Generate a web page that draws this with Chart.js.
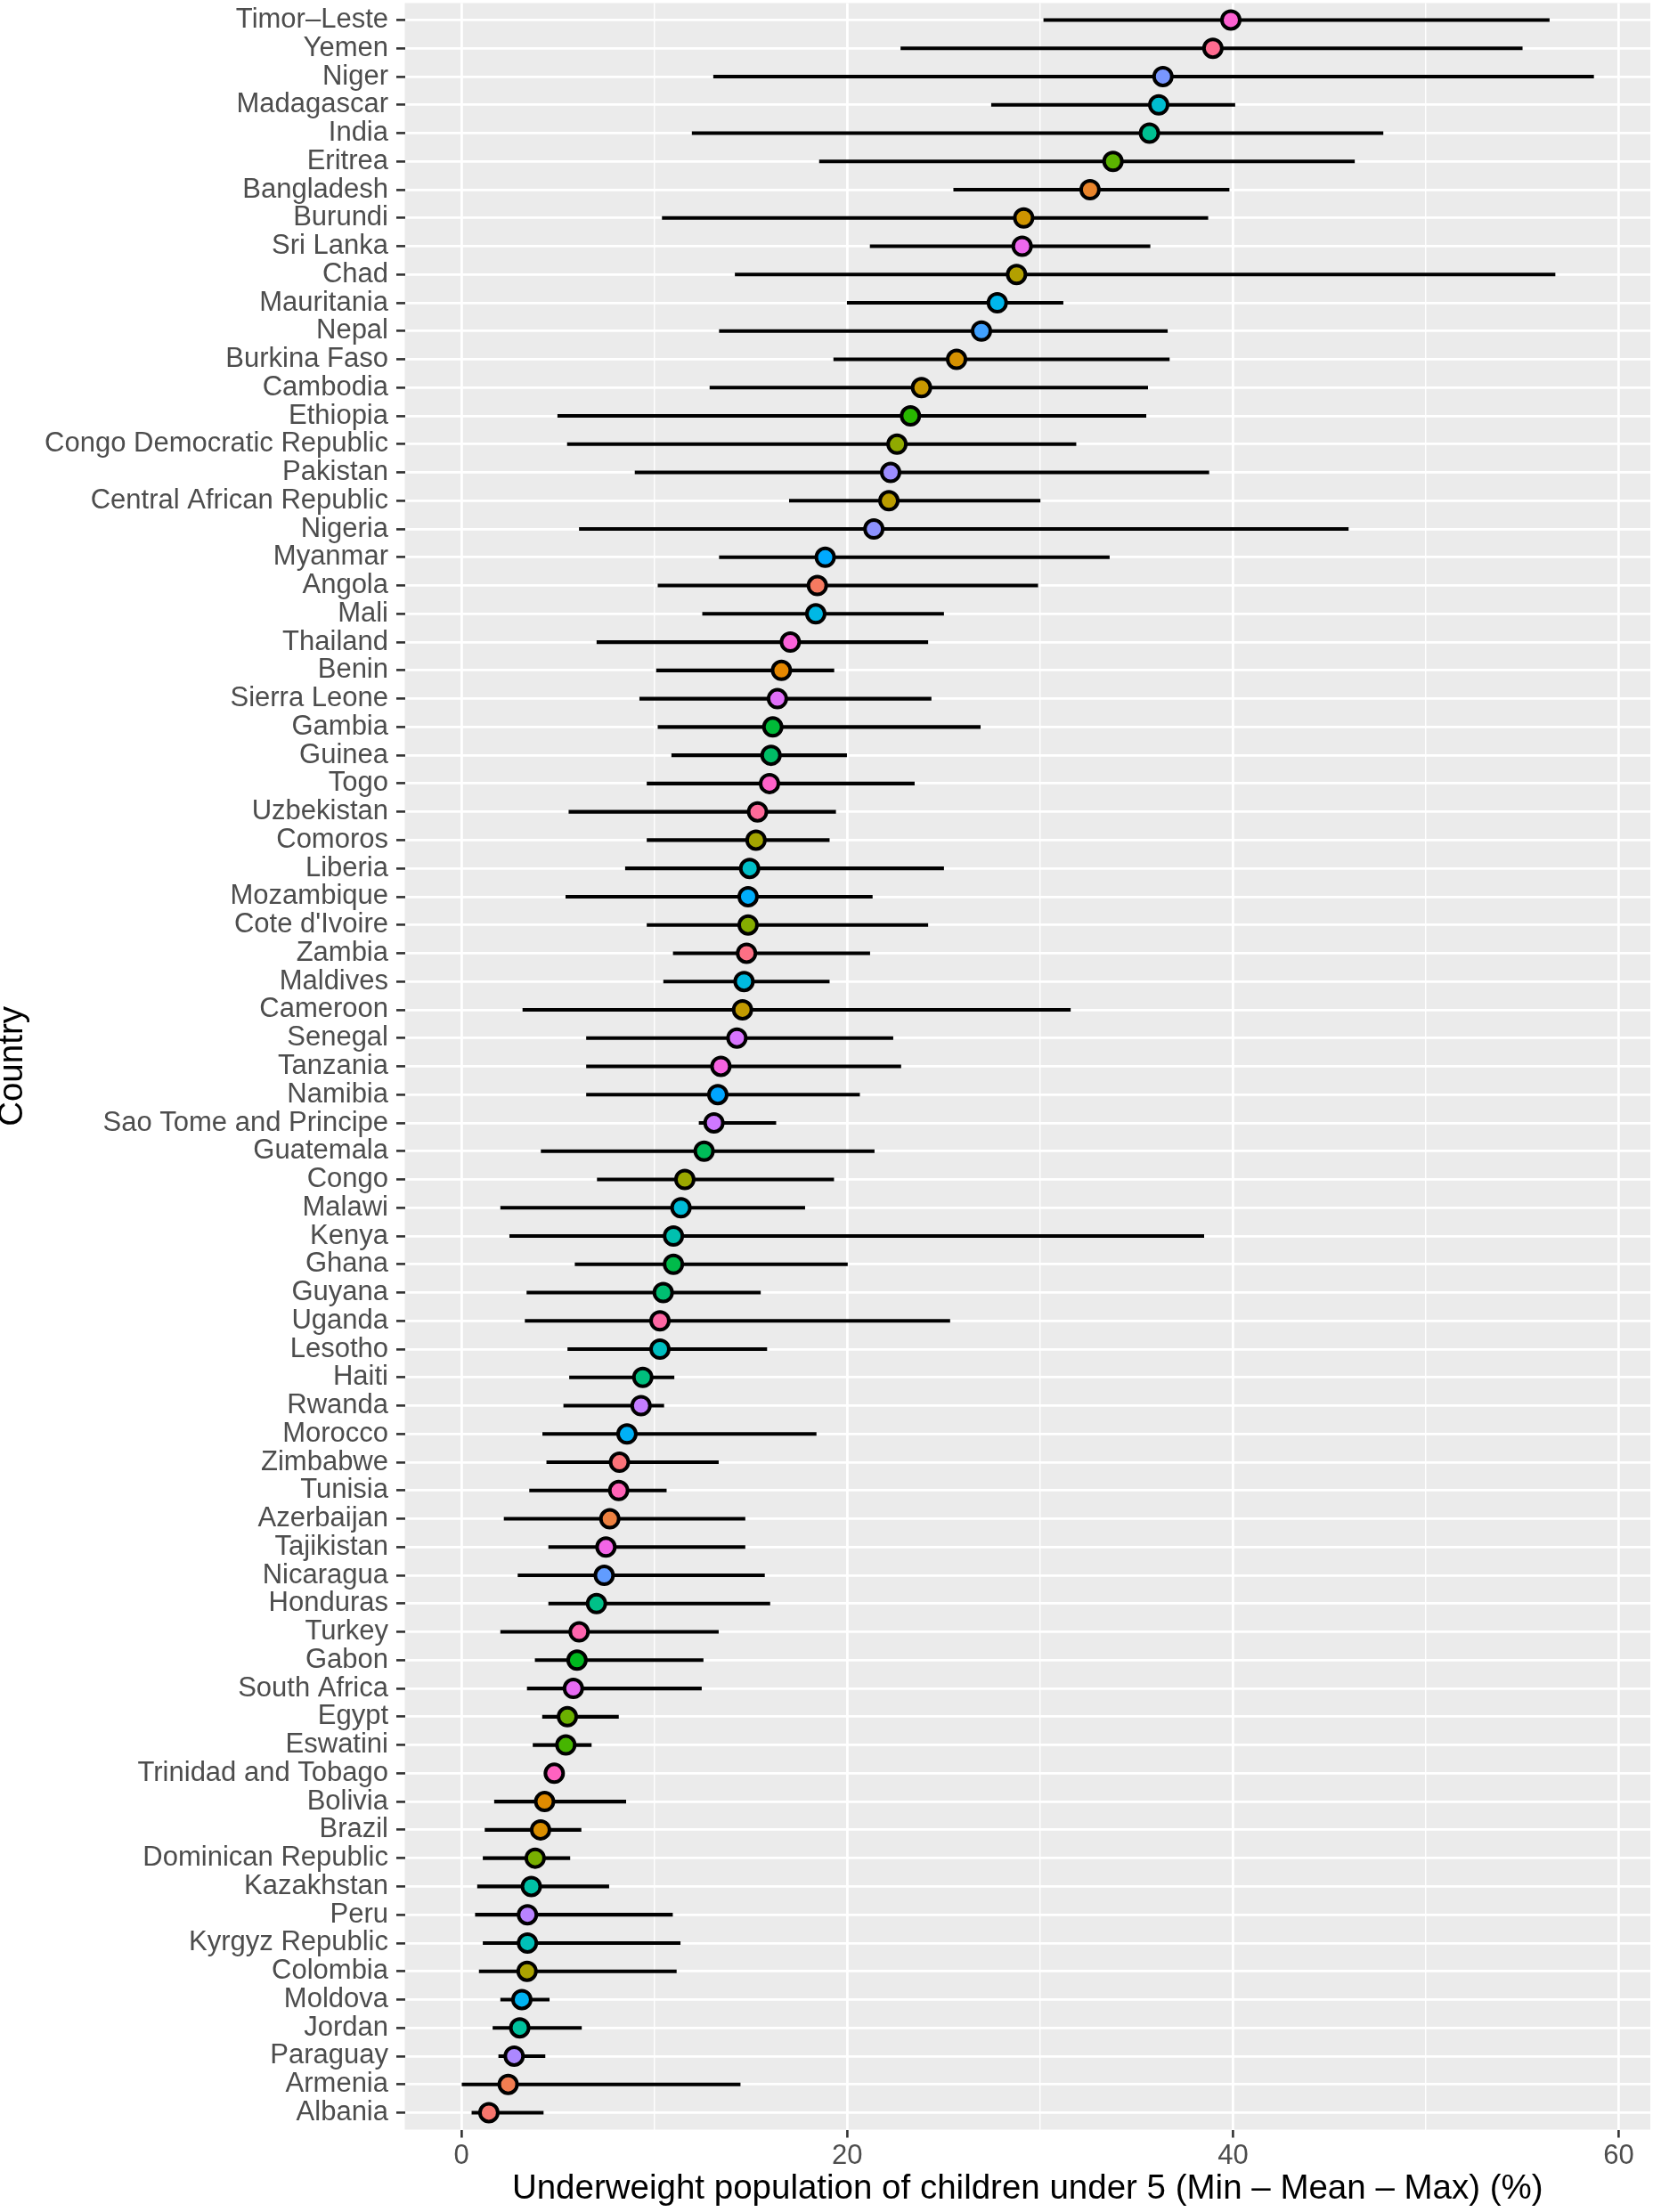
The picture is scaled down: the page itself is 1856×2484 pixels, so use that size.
<!DOCTYPE html>
<html>
<head>
<meta charset="utf-8">
<script src="https://cdn.jsdelivr.net/npm/chart.js@4.4.1/dist/chart.umd.min.js"></script>
<style>
html,body{margin:0;padding:0;background:#ffffff;}
canvas{display:block;}
</style>
</head>
<body>
<canvas id="c" width="1856" height="2484" style="width:1856px;height:2484px"></canvas>
<script>
const countries = [
  "Timor–Leste","Yemen","Niger","Madagascar","India","Eritrea","Bangladesh","Burundi","Sri Lanka","Chad",
  "Mauritania","Nepal","Burkina Faso","Cambodia","Ethiopia","Congo Democratic Republic","Pakistan","Central African Republic","Nigeria","Myanmar",
  "Angola","Mali","Thailand","Benin","Sierra Leone","Gambia","Guinea","Togo","Uzbekistan","Comoros",
  "Liberia","Mozambique","Cote d'Ivoire","Zambia","Maldives","Cameroon","Senegal","Tanzania","Namibia","Sao Tome and Principe",
  "Guatemala","Congo","Malawi","Kenya","Ghana","Guyana","Uganda","Lesotho","Haiti","Rwanda",
  "Morocco","Zimbabwe","Tunisia","Azerbaijan","Tajikistan","Nicaragua","Honduras","Turkey","Gabon","South Africa",
  "Egypt","Eswatini","Trinidad and Tobago","Bolivia","Brazil","Dominican Republic","Kazakhstan","Peru","Kyrgyz Republic","Colombia",
  "Moldova","Jordan","Paraguay","Armenia","Albania"
];
const meanValues = [
  39.89,38.96,36.37,36.15,35.67,33.78,32.59,29.15,29.07,28.78,
  27.78,26.96,25.67,23.85,23.28,22.58,22.25,22.16,21.38,18.86,
  18.45,18.37,17.05,16.59,16.38,16.14,16.05,15.97,15.35,15.27,
  14.94,14.86,14.86,14.78,14.65,14.57,14.28,13.45,13.29,13.09,
  12.58,11.58,11.38,10.99,10.99,10.46,10.29,10.29,9.40,9.31,
  8.58,8.19,8.15,7.69,7.49,7.40,7.00,6.10,5.99,5.80,
  5.49,5.41,4.81,4.31,4.10,3.82,3.62,3.42,3.42,3.40,
  3.13,3.02,2.73,2.42,1.42
];
const minValues = [
  30.19,22.78,13.07,27.48,11.96,18.56,25.52,10.41,21.19,14.19,
  20.00,13.37,19.30,12.88,4.99,5.49,9.00,17.00,6.11,13.37,
  10.19,12.50,7.02,10.11,9.24,10.19,10.90,9.62,5.57,9.62,
  8.50,5.41,9.62,10.98,10.48,3.18,6.48,6.48,6.48,12.32,
  4.13,7.04,2.03,2.50,5.89,3.39,3.30,5.51,5.60,5.30,
  4.21,4.42,3.53,2.21,4.52,2.93,4.52,2.03,3.82,3.41,
  4.20,3.71,4.60,1.71,1.22,1.12,0.83,0.72,1.12,0.92,
  2.03,1.63,1.93,0.03,0.54
];
const maxValues = [
  56.40,55.00,58.70,40.10,47.78,46.30,39.80,38.70,35.70,56.70,
  31.19,36.60,36.70,35.58,35.49,31.86,38.75,30.00,45.98,33.59,
  29.88,25.00,24.18,19.31,24.35,26.90,19.97,23.48,19.40,19.07,
  25.00,21.30,24.18,21.17,19.07,31.57,22.37,22.78,20.64,16.30,
  21.40,19.30,17.80,38.49,20.01,15.50,25.32,15.83,11.02,10.49,
  18.39,13.32,10.62,14.70,14.70,15.71,15.99,13.32,12.53,12.44,
  8.14,6.73,5.00,8.52,6.20,5.62,7.64,10.94,11.34,11.14,
  4.55,6.22,4.33,14.45,4.24
];
const xTickValues = [0,10,20,30,40,50,60];
const xTickLabels = ["0","","20","","40","","60"];
const xTitle = "Underweight population of children under 5 (Min – Mean – Max) (%)";
const yTitle = "Country";

// ggplot2 default hue palette (hcl, c=100, l=65), levels in alphabetical order
function hclHex(h, c, l) {
  const WHITE_Y = 100, WHITE_u = 0.1978398, WHITE_v = 0.4683363;
  const rad = h * Math.PI / 180;
  const U = c * Math.cos(rad), V = c * Math.sin(rad);
  const Y = WHITE_Y * (l > 7.999592 ? Math.pow((l + 16) / 116, 3) : l / 903.3);
  const u = U / (13 * l) + WHITE_u;
  const v = V / (13 * l) + WHITE_v;
  const X = 9.0 * Y * u / (4 * v);
  const Z = -X / 3 - 5 * Y + 3 * Y / v;
  const g = t => {
    t = t > 0.00304 ? 1.055 * Math.pow(t, 1 / 2.4) - 0.055 : 12.92 * t;
    return Math.round(255 * Math.min(1, Math.max(0, t)));
  };
  const r = g((3.240479 * X - 1.537150 * Y - 0.498535 * Z) / WHITE_Y);
  const gg = g((-0.969256 * X + 1.875992 * Y + 0.041556 * Z) / WHITE_Y);
  const b = g((0.055648 * X - 0.204043 * Y + 1.057311 * Z) / WHITE_Y);
  return '#' + [r, gg, b].map(n => n.toString(16).padStart(2, '0')).join('');
}
const levels = countries.slice().sort();
const nLev = levels.length;
const fillColors = countries.map(name => hclHex(15 + 360 * levels.indexOf(name) / nLev, 100, 65));

const panelBg = {
  id: 'panelBg',
  beforeDraw(chart) {
    const {ctx, chartArea: a} = chart;
    ctx.save();
    ctx.fillStyle = '#EBEBEB';
    ctx.fillRect(a.left, a.top, a.right - a.left, a.bottom - a.top);
    ctx.restore();
  }
};

const FONT = "'Liberation Sans', Arial, Helvetica, sans-serif";

new Chart(document.getElementById('c'), {
  type: 'bar',
  data: {
    datasets: [
      {
        type: 'line',
        order: 0,
        showLine: false,
        data: meanValues.map((m, i) => ({x: m, y: i})),
        pointRadius: 10,
        pointHoverRadius: 10,
        pointBorderWidth: 4,
        pointBorderColor: '#000000',
        pointBackgroundColor: fillColors
      },
      {
        type: 'bar',
        order: 1,
        data: minValues.map((mn, i) => ({y: i, x: [mn, maxValues[i]]})),
        backgroundColor: '#000000',
        borderWidth: 0,
        barThickness: 3.4,
        borderSkipped: false
      }
    ]
  },
  options: {
    indexAxis: 'y',
    responsive: false,
    animation: false,
    devicePixelRatio: 1,
    layout: {autoPadding: false, padding: {left: 0, right: 3, top: 3.4, bottom: 0}},
    plugins: {legend: {display: false}, tooltip: {enabled: false}},
    scales: {
      x: {
        type: 'linear',
        position: 'bottom',
        offset: false,
        min: -2.94,
        max: 61.64,
        afterBuildTicks: s => { s.ticks = xTickValues.map(v => ({value: v})); },
        afterFit: s => { s.height = 92.5; s.paddingLeft = 0; s.paddingRight = 0; s.paddingTop = 0; s.paddingBottom = 0; },
        border: {display: false},
        grid: {
          offset: false,
          color: '#FFFFFF',
          lineWidth: ctx => (ctx.tick && ctx.tick.value % 20 === 0) ? 2.8 : 1.4,
          drawTicks: true,
          tickLength: 9,
          tickWidth: 2.6,
          tickColor: ctx => (ctx.tick && ctx.tick.value % 20 === 0) ? '#333333' : 'rgba(0,0,0,0)'
        },
        ticks: {
          autoSkip: false,
          maxRotation: 0,
          padding: 5,
          color: '#4D4D4D',
          font: {family: FONT, size: 31, lineHeight: 1},
          callback: (v) => xTickLabels[xTickValues.indexOf(v)]
        },
        title: {
          display: true,
          text: xTitle,
          color: '#000000',
          font: {family: FONT, size: 38.5, lineHeight: 1},
          padding: {top: 0, bottom: 6.3}
        }
      },
      y: {
        type: 'linear',
        position: 'left',
        reverse: true,
        offset: false,
        min: -0.6,
        max: countries.length - 1 + 0.6,
        afterBuildTicks: s => { s.ticks = countries.map((_, i) => ({value: i})); },
        afterFit: s => { s.width = 454.5; s.paddingTop = 0; s.paddingBottom = 0; s.paddingLeft = 0; s.paddingRight = 0; },
        border: {display: false},
        grid: {
          offset: false,
          color: '#FFFFFF',
          lineWidth: 2.8,
          drawTicks: true,
          tickLength: 9.5,
          tickWidth: 2.6,
          tickColor: '#333333'
        },
        ticks: {
          autoSkip: false,
          padding: 9,
          color: '#4D4D4D',
          font: {family: FONT, size: 31, lineHeight: 1},
          callback: (v) => countries[v]
        },
        title: {
          display: true,
          text: yTitle,
          color: '#000000',
          font: {family: FONT, size: 38.5, lineHeight: 0.77},
          padding: {top: 0, bottom: 0}
        }
      }
    }
  },
  plugins: [panelBg]
});
</script>
</body>
</html>
